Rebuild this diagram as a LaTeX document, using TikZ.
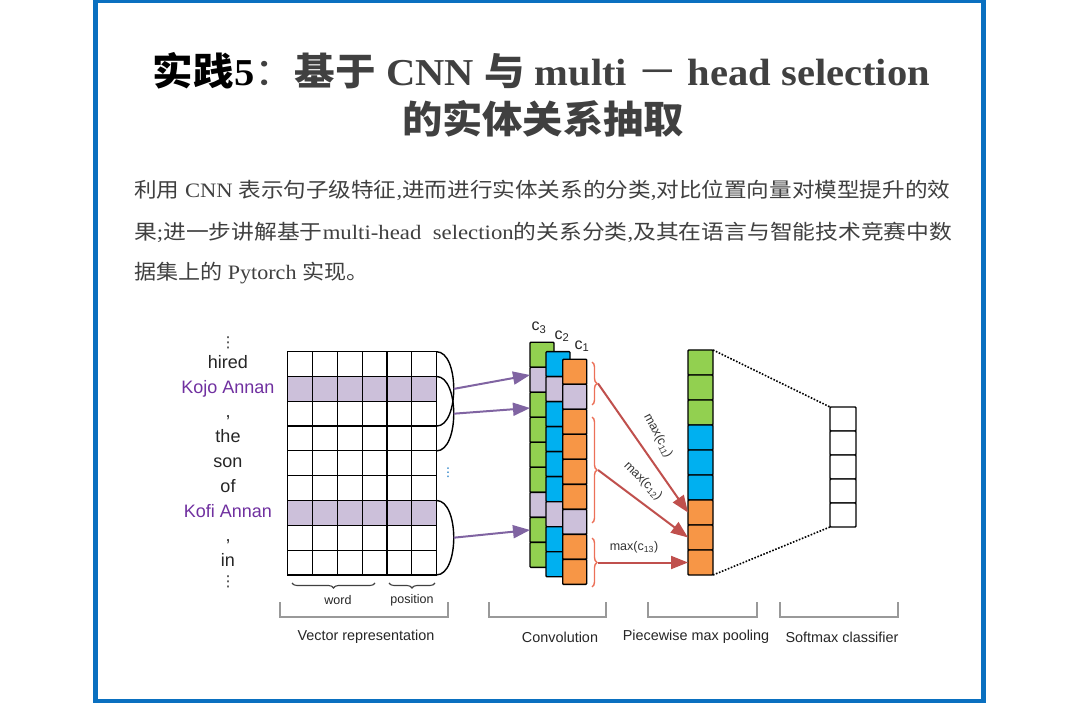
\documentclass[tikz,border=0pt]{standalone}
\usepackage{fontspec}
\usepackage{graphicx}
\setmainfont{Liberation Serif}
\setsansfont{Liberation Sans}
\newfontfamily\cjk{Noto Sans CJK SC}
\newfontfamily\dejavu{DejaVu Sans}
\usetikzlibrary{arrows.meta,decorations.pathreplacing}
\definecolor{frameblue}{RGB}{10,112,192}
\definecolor{cgreen}{RGB}{146,208,80}
\definecolor{cblue}{RGB}{0,176,240}
\definecolor{corange}{RGB}{247,150,70}
\definecolor{clav}{RGB}{204,192,218}
\definecolor{apurple}{RGB}{128,100,162}
\definecolor{ared}{RGB}{192,80,77}
\definecolor{bred}{RGB}{236,112,88}
\definecolor{ktext}{RGB}{112,48,160}
\definecolor{tgrey}{RGB}{64,64,64}
\newcommand{\convcolumn}[4]{%
  \foreach \r/\f in {1/#2,2/clav,3/#2,4/#2,5/#2,6/#2,7/clav,8/#2,9/#2}{%
    \node[ccell,fill=\f] (#1-\r) at ({#3+12},{#4+25*(\r-0.5)}) {};%
  }}
\begin{document}
\begin{tikzpicture}[x=1pt,y=-1pt,
  gcell/.style={draw=black,line width=1.2pt,minimum width=24.8pt,minimum height=24.8pt,inner sep=0pt,outer sep=0pt},
  ccell/.style={draw=black,line width=1.4pt,minimum width=24pt,minimum height=25pt,inner sep=0pt,outer sep=0pt,rounded corners=0.8pt},
  word/.style={font=\sffamily\fontsize{18}{20}\selectfont,text=black!85,text height=13pt,text depth=4pt,inner sep=0pt},
  small/.style={font=\sffamily\fontsize{12.5}{14}\selectfont,text=black!85,inner sep=0pt},
  stage/.style={font=\sffamily\fontsize{14.4}{16}\selectfont,text=black!85,inner sep=0pt},
  maxlab/.style={font=\sffamily\fontsize{12.5}{14}\selectfont,text=black!80,inner sep=0pt},
  clab/.style={font=\sffamily\fontsize{16}{18}\selectfont,text=black!85,inner sep=0pt},
  arcline/.style={draw=black,line width=1.4pt},
  parrow/.style={draw=apurple,line width=2pt,-{Triangle[length=17pt,width=13pt]}},
  rarrow/.style={draw=ared,line width=2pt,-{Triangle[length=17pt,width=13pt]}},
  rbrace/.style={draw=bred,line width=1.4pt,decorate,decoration={brace,amplitude=5pt}},
  gbrace/.style={draw=black!75,line width=1.1pt,decorate,decoration={brace,mirror,amplitude=5pt}},
  bracket/.style={draw=black!40,line width=1.3pt},
  dotline/.style={draw=black,line width=1.6pt,dash pattern=on 1.6pt off 1.6pt}
]
\useasboundingbox (0,0) rectangle (1080,703);
\fill[white] (0,0) rectangle (1080,703);
% frame
\draw[frameblue,line width=5pt] (95.5,0.5) rectangle (983.5,701);

% title
\node[text=tgrey,inner sep=0pt] (title1) at (541.5,71) {\resizebox{777pt}{\height}{\fontsize{38}{44}\selectfont{\color{black}\cjk\bfseries 实践}{\color{black}\bfseries 5}{\cjk ：}{\cjk\bfseries 基于} \textbf{CNN} {\cjk\bfseries 与} \textbf{multi} {\cjk －} \textbf{head selection}}};
\node[text=tgrey,inner sep=0pt] (title2) at (543,119) {\resizebox{282pt}{\height}{\fontsize{38}{44}\selectfont\cjk\bfseries 的实体关系抽取}};

% paragraph
\node[text=tgrey,inner sep=0pt,anchor=west] (para1) at (134,190) {\resizebox{816pt}{\height}{\fontsize{20.5}{24}\selectfont{\cjk 利用} CNN {\cjk 表示句子级特征},{\cjk 进而进行实体关系的分类},{\cjk 对比位置向量对模型提升的效}}};
\node[text=tgrey,inner sep=0pt,anchor=west] (para2) at (134,232.5) {\resizebox{818pt}{\height}{\fontsize{20.5}{24}\selectfont{\cjk 果};{\cjk 进一步讲解基于}multi-head\ \ selection{\cjk 的关系分类},{\cjk 及其在语言与智能技术竞赛中数}}};
\node[text=tgrey,inner sep=0pt,anchor=west] (para3) at (134,273.5) {\resizebox{234pt}{\height}{\fontsize{20.5}{24}\selectfont{\cjk 据集上的} Pytorch {\cjk 实现。}}};

% word labels
\node[font=\dejavu\fontsize{15}{16}\selectfont,text=black!80,inner sep=0pt] (vd1) at (228,343) {⋮};
\node[word] (w1) at (228,363.8) {hired};
\node[word,text=ktext] (w2) at (228,388.6) {Kojo Annan};
\node[word] (w3) at (228,413.4) {,};
\node[word] (w4) at (228,438.2) {the};
\node[word] (w5) at (228,463) {son};
\node[word] (w6) at (228,487.8) {of};
\node[word,text=ktext] (w7) at (228,512.6) {Kofi Annan};
\node[word] (w8) at (228,537.4) {,};
\node[word] (w9) at (228,562.2) {in};
\node[font=\dejavu\fontsize{15}{16}\selectfont,text=black!80,inner sep=0pt] (vd2) at (228,582) {⋮};

% matrix
\foreach \r/\fc in {1/white,2/clav,3/white,4/white,5/white,6/white,7/clav,8/white,9/white}{
  \foreach \c in {1,...,6}{
    \node[gcell,fill=\fc] (m-\r-\c) at ({287.7+24.8*(\c-0.5)},{351.7+24.8*(\r-0.5)}) {};
  }
}
% window arcs
\draw[arcline] (m-1-6.north east) .. controls +(23,0) and +(23,0) .. coordinate[pos=0.5] (a1) (m-3-6.south east);
\draw[arcline] (m-2-6.north east) .. controls +(23,0) and +(23,0) .. coordinate[pos=0.5] (a2) (m-4-6.south east);
\draw[arcline] (m-7-6.north east) .. controls +(23,0) and +(23,0) .. coordinate[pos=0.5] (a3) (m-9-6.south east);
\node[font=\dejavu\fontsize{12}{13}\selectfont,text=frameblue,inner sep=0pt] (vd3) at (448,473) {⋮};

% convolution columns
\convcolumn{g}{cgreen}{530}{342.3}
\convcolumn{b}{cblue}{546}{351.7}
\convcolumn{o}{corange}{562.7}{359.3}
\node[clab] (c3) at (539,328) {c\textsubscript{3}};
\node[clab] (c2) at (562,336) {c\textsubscript{2}};
\node[clab] (c1) at (582,346) {c\textsubscript{1}};

% purple arrows
\coordinate (t1) at (530,375);
\coordinate (t2) at (530,408);
\coordinate (t3) at (530,530);
\draw[parrow] (a1) -- (t1);
\draw[parrow] (a2) -- (t2);
\draw[parrow] (a3) -- (t3);

% pooling column
\foreach \r/\f in {1/cgreen,2/cgreen,3/cgreen,4/cblue,5/cblue,6/cblue,7/corange,8/corange,9/corange}{
  \node[ccell,minimum width=25pt,fill=\f] (p-\r) at (700.5,{350+25*(\r-0.5)}) {};
}
% softmax column
\foreach \r in {1,...,5}{
  \node[ccell,minimum width=26pt,minimum height=24pt,fill=white] (s-\r) at (843,{407+24*(\r-0.5)}) {};
}
\draw[dotline] (p-1.north east) -- (s-1.north west);
\draw[dotline] (p-9.south east) -- (s-5.south west);

% red braces and arrows
\draw[rbrace] (592,362) -- (592,405);
\draw[rbrace] (592,417) -- (592,523);
\draw[rbrace] (592,538) -- (592,587);
\coordinate (r1) at (598,383.5);
\coordinate (r2) at (598,470);
\coordinate (r3) at (598,562.5);
\draw[rarrow] (r1) -- (p-7.west);
\draw[rarrow] (r2) -- (p-8.west);
\draw[rarrow] (r3) -- (p-9.west);
\node[maxlab,rotate=-62] (mx1) at (658,436) {max(c\textsubscript{11})};
\node[maxlab,rotate=-45] (mx2) at (643,481) {max(c\textsubscript{12})};
\node[maxlab] (mx3) at (634,547) {max(c\textsubscript{13})};

% bottom braces
\draw[gbrace] (292,583) -- (375,583);
\draw[gbrace] (389,583) -- (435,583);
\node[small] (lw) at (338,600) {word};
\node[small] (lp) at (412,600) {position};

% stage brackets
\draw[bracket] (280,602) |- (448,617) -- (448,602);
\draw[bracket] (489,602) |- (606,617) -- (606,602);
\draw[bracket] (648,602) |- (757,617) -- (757,602);
\draw[bracket] (780,602) |- (898,617) -- (898,602);
\node[stage] (l1) at (366,637) {Vector representation};
\node[stage] (l2) at (560,637) {Convolution};
\node[stage] (l3) at (696,637) {Piecewise max pooling};
\node[stage] (l4) at (842,637) {Softmax classifier};
\end{tikzpicture}
\end{document}
